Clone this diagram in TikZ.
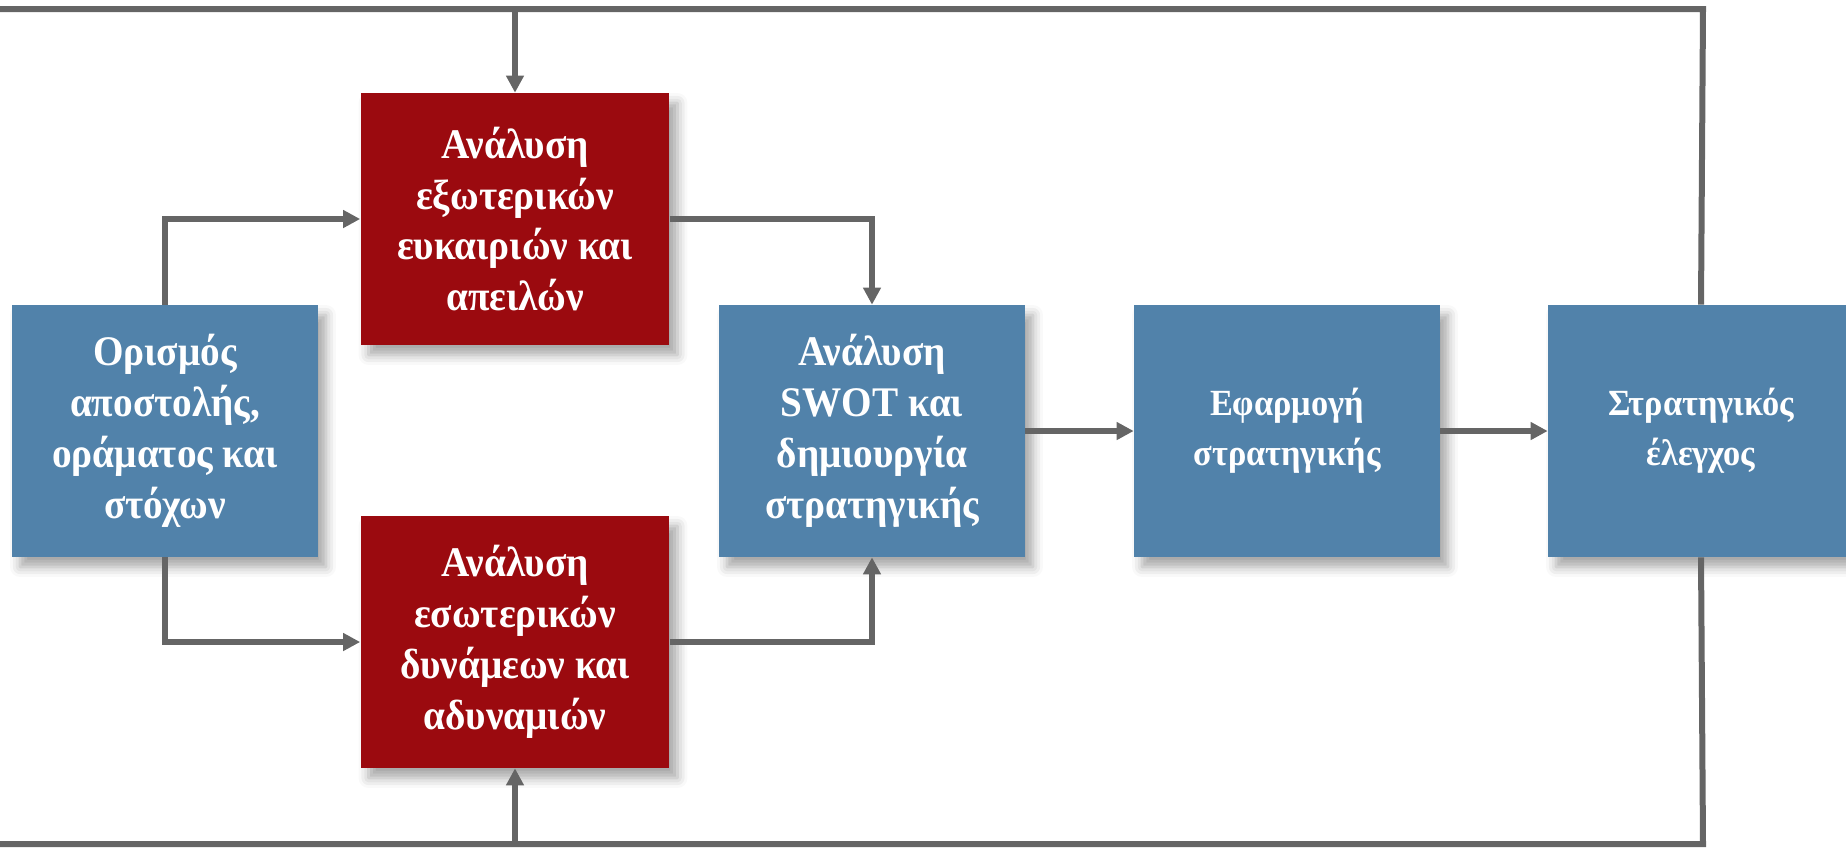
\documentclass[tikz,border=0pt]{standalone}
\usepackage{fontspec}
\setmainfont{Liberation Serif}[FakeStretch=0.93]
\usepackage{tikz}
\usetikzlibrary{arrows.meta}
\usetikzlibrary{shadows.blur}

\definecolor{boxblue}{HTML}{5182AA}
\definecolor{boxred}{HTML}{9B0A0F}
\definecolor{linegray}{HTML}{656565}

\tikzset{
    stagebox/.style={rectangle, fill=boxblue, text=white, align=center,
        minimum width=6.12cm, minimum height=5.04cm, inner sep=0pt,
        font=\fontsize{24}{29}\selectfont\bfseries,
        blur shadow={shadow xshift=0.16cm, shadow yshift=-0.2cm, shadow blur radius=0.2cm, shadow opacity=35}},
    smallstage/.style={stagebox, font=\fontsize{21}{28.5}\selectfont\bfseries},
    analysisbox/.style={stagebox, fill=boxred, minimum width=6.18cm},
    flow/.style={draw=linegray, line width=0.12cm, -{Triangle[length=0.34cm, width=0.34cm]}},
    loop/.style={draw=linegray, line width=0.12cm}
}

\begin{document}
\begin{tikzpicture}[x=0.02cm, y=-0.02cm]
\useasboundingbox (0,0) rectangle (1846,850);

% Stages
\node[stagebox] (mission) at (165,431) {Ορισμός\\αποστολής,\\οράματος και\\στόχων};
\node[stagebox] (swot) at (872,431) {Ανάλυση\\SWOT και\\δημιουργία\\στρατηγικής};
\node[smallstage] (impl) at (1287,431) {Εφαρμογή\\στρατηγικής};
\node[smallstage] (control) at (1701,431) {Στρατηγικός\\έλεγχος};

% Environment analysis
\node[analysisbox] (ext) at (515,219) {Ανάλυση\\εξωτερικών\\ευκαιριών και\\απειλών};
\node[analysisbox] (int) at (515,642) {Ανάλυση\\εσωτερικών\\δυνάμεων και\\αδυναμιών};

% Feedback corners
\coordinate (tr) at (1703,9);
\coordinate (tl) at (-10,9);
\coordinate (br) at (1703,844);
\coordinate (bl) at (-10,844);

% Mission to analysis
\draw[flow] (mission.north) |- (ext.west);
\draw[flow] (mission.south) |- (int.west);

% Analysis to SWOT
\draw[flow] (ext.east) -| (swot.north);
\draw[flow] (int.east) -| (swot.south);

% Main chain
\draw[flow] (swot.east) -- (impl.west);
\draw[flow] (impl.east) -- (control.west);

% Feedback from control
\draw[loop] (control.north) -- (tr) -- (tl);
\draw[loop] (control.south) -- (br) -- (bl);
\draw[flow] (ext.north |- tr) -- (ext.north);
\draw[flow] (int.south |- br) -- (int.south);

\end{tikzpicture}
\end{document}
